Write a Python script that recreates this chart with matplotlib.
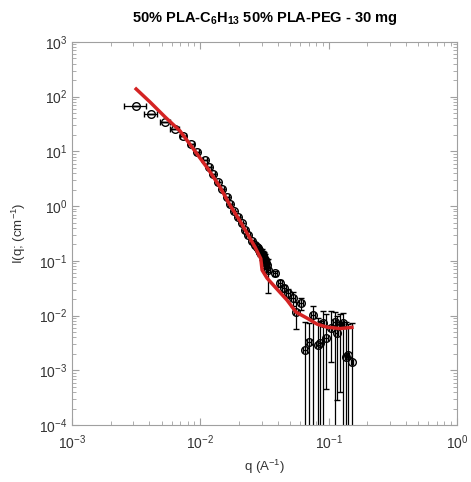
import numpy as np
import matplotlib
matplotlib.use("Agg")
import matplotlib.pyplot as plt

plt.rcParams['font.family'] = ['Liberation Sans', 'DejaVu Sans']
plt.rcParams['mathtext.fontset'] = 'custom'
plt.rcParams['mathtext.rm'] = 'Liberation Sans'
plt.rcParams['mathtext.bf'] = 'Liberation Sans:bold'

# measured data
q = [0.00316, 0.00413, 0.00531, 0.00635, 0.00733, 0.00846, 0.00943, 0.0109,
     0.0117, 0.0126, 0.0137, 0.0148, 0.0161, 0.0170, 0.0183, 0.0197, 0.0211,
     0.0223, 0.0236, 0.0253, 0.0267, 0.0275, 0.0282, 0.0288, 0.0292, 0.0300,
     0.0308, 0.0312, 0.0319, 0.0325, 0.0331, 0.0337, 0.0382, 0.0418, 0.0449,
     0.0483, 0.0528, 0.0557, 0.0610, 0.0655, 0.0703, 0.0755, 0.0826, 0.0857,
     0.0903, 0.0955, 0.104, 0.112, 0.116, 0.123, 0.129, 0.137, 0.142, 0.152]
I = [67.6, 48.3, 34.5, 25.7, 19.1, 13.7, 9.75, 6.97,
     5.19, 3.86, 2.76, 2.05, 1.47, 1.09, 0.813, 0.632, 0.491,
     0.366, 0.296, 0.230, 0.195, 0.180, 0.171, 0.155, 0.145, 0.135,
     0.128, 0.115, 0.103, 0.092, 0.0838, 0.0679, 0.0598, 0.0393, 0.0318,
     0.0258, 0.0209, 0.0116, 0.0169, 0.00234, 0.00328, 0.0102, 0.00289, 0.00314,
     0.0073, 0.00388, 0.00592, 0.0076, 0.00479, 0.0067, 0.0073, 0.00174, 0.0019, 0.00141]
q_err = [0.0006, 0.0005, 0.0005, 0.0005, 0.0004, 0.0004, 0.0004, 0.0004,
         0.0004, 0.0004, 0.0004, 0.0004, 0.0005, 0.0005, 0.0005, 0.0006, 0.0006,
         0.0007, 0.0007, 0.0008, 0.0009, 0.0010, 0.0010, 0.0011, 0.0011, 0.0011,
         0.0012, 0.0012, 0.0012, 0.0012, 0.0013, 0.0013, 0.0014, 0.0015, 0.0016,
         0.0017, 0.0018, 0.0019, 0.0020, 0.0021, 0.0022, 0.0023, 0.0024, 0.0025,
         0.0026, 0.0027, 0.0028, 0.0030, 0.0031, 0.0032, 0.0033, 0.0034, 0.0035, 0.0036]
I_err_lo = [1.0, 0.8, 0.6, 0.4, 0.3, 0.2, 0.15, 0.1,
            0.08, 0.06, 0.04, 0.03, 0.02, 0.015, 0.012, 0.01, 0.008,
            0.006, 0.006, 0.006, 0.006, 0.01, 0.01, 0.02, 0.02, 0.03,
            0.025, 0.03, 0.03, 0.02, 0.02, 0.042, 0.006, 0.006, 0.005,
            0.005, 0.006, 0.006, 0.004, 0.00234, 0.00328, 0.0102, 0.00289, 0.00314,
            0.0073, 0.00343, 0.0045, 0.0076, 0.0045, 0.0063, 0.0073, 0.00174, 0.0019, 0.00141]
I_err_hi = [1.0, 0.8, 0.6, 0.4, 0.3, 0.2, 0.15, 0.1,
            0.08, 0.06, 0.04, 0.03, 0.02, 0.015, 0.012, 0.01, 0.008,
            0.006, 0.006, 0.006, 0.006, 0.01, 0.01, 0.02, 0.02, 0.03,
            0.025, 0.03, 0.03, 0.02, 0.02, 0.04, 0.006, 0.006, 0.005,
            0.005, 0.006, 0.006, 0.004, 0.0053, 0.004, 0.0045, 0.006, 0.005,
            0.005, 0.007, 0.006, 0.004, 0.005, 0.004, 0.004, 0.006, 0.005, 0.006]

# fit curve
q_fit = [0.00316, 0.00405, 0.00531, 0.00695, 0.00861, 0.0115, 0.01424, 0.0170,
         0.0204, 0.0236, 0.0267, 0.0292, 0.0296, 0.0303, 0.0331, 0.0396, 0.0474,
         0.0557, 0.0679, 0.0813, 0.0973, 0.123, 0.152]
I_fit = [138, 80.0, 42.6, 23.6, 12.0, 4.77, 2.23, 1.05,
         0.534, 0.296, 0.179, 0.117, 0.110, 0.068, 0.0485, 0.0305, 0.0192,
         0.0116, 0.0090, 0.0070, 0.00616, 0.0058, 0.0061]

fig = plt.figure(figsize=(4.71, 4.82), dpi=100)
ax = fig.add_axes([0.153, 0.118, 0.817, 0.795])

ax.errorbar(q, I, xerr=q_err, yerr=[I_err_lo, I_err_hi], fmt='o', ms=5.5,
            mfc='none', mec='black', mew=1.0, ecolor='black', elinewidth=0.9,
            capsize=2, capthick=0.9, zorder=2)
ax.plot(q_fit, I_fit, color='#d42323', lw=2.5, zorder=3)

ax.set_xscale('log')
ax.set_yscale('log')
ax.set_xlim(1e-3, 1)
ax.set_ylim(1e-4, 1e3)

for s in ax.spines.values():
    s.set_color('#a0a0a0')
ax.tick_params(which='both', direction='in', top=True, right=True,
               color='#a0a0a0', labelsize=10, labelcolor='#333333')
ax.tick_params(which='major', length=5)
ax.tick_params(which='minor', length=3)
ax.tick_params(axis='x', pad=6)

ax.set_xlabel(r'q (A$^{-1}$)', fontsize=9.5, color='#333333', labelpad=4)
ax.set_ylabel(r'I(q; (cm$^{-1}$)', fontsize=9.5, color='#333333', labelpad=8)
ax.set_title(r'50% PLA-C$_\mathbf{6}$H$_\mathbf{13}$ 50% PLA-PEG - 30 mg',
             fontsize=10.5, fontweight='bold', pad=14)

fig.savefig('out.png', dpi=100)
